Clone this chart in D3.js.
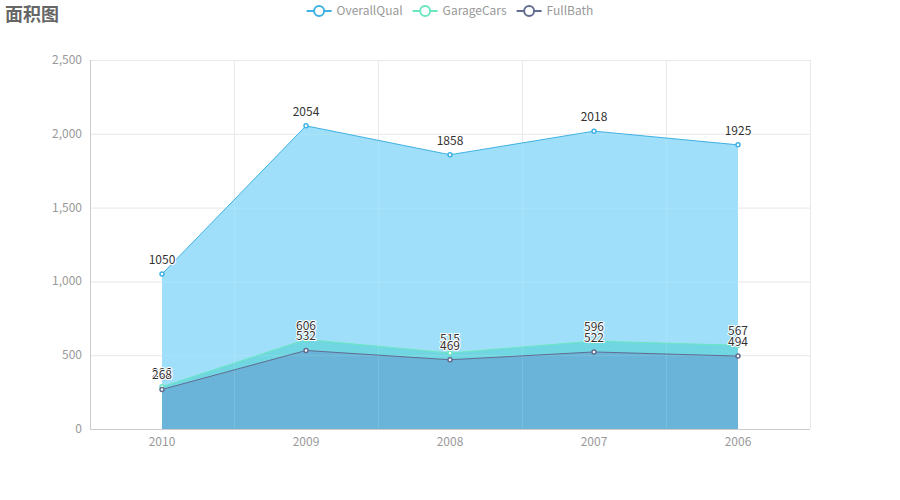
<!DOCTYPE html>
<html><head><meta charset="utf-8">
<script src="https://cdn.jsdelivr.net/npm/d3@7/dist/d3.min.js"></script>
<style>body{margin:0;background:#fff}svg{display:block}</style>
</head><body><svg id="c" width="900" height="500"></svg>
<script>
const categories = ["2010","2009","2008","2007","2006"];
const seriesNames = ["OverallQual","GarageCars","FullBath"];
const overallQual = [1050,2054,1858,2018,1925];
const garageCars = [286,606,515,596,567];
const fullBath = [268,532,469,522,494];
const yTicks = [0,500,1000,1500,2000,2500];
const colors = ["#3fb1e3","#6be6c1","#626c91"];
const areaColors = ["#9fdff9","#70d7e2","#69b4d8"];

const font = "'Noto Sans CJK SC','Noto Sans',sans-serif";
const svg = d3.select("#c");
const L=90,R=810,T=60,B=429;
const x = d3.scaleBand().domain(categories).range([L,R]);
const y = d3.scaleLinear().domain([0,2500]).range([B,T]);
const cx = d => x(d)+x.bandwidth()/2;

const data = [overallQual,garageCars,fullBath];
const area = d3.area().x((d,i)=>cx(categories[i])).y0(y(0)).y1(d=>y(d));
const line = d3.line().x((d,i)=>cx(categories[i])).y(d=>y(d));

// grid (under)
const g = svg.append("g");
const vx = categories.map(c=>x(c)).slice(1).concat([R]);
function grid(op){
  g.append("g").selectAll("line").data(yTicks.slice(1)).join("line")
    .attr("x1",L).attr("x2",R).attr("y1",d=>y(d)+0.5).attr("y2",d=>y(d)+0.5)
    .attr("stroke","#e6e6e6").attr("stroke-opacity",op);
  g.append("g").selectAll("line").data(vx).join("line")
    .attr("x1",d=>d+0.5).attr("x2",d=>d+0.5).attr("y1",T).attr("y2",B)
    .attr("stroke","#e6e6e6").attr("stroke-opacity",op);
}
grid(1);

data.forEach((vals,k)=>{
  svg.append("path").attr("d",area(vals)).attr("fill",areaColors[k]);
});
// faint grid through areas
const g2 = svg.append("g");
g2.selectAll("line.h").data(yTicks.slice(1)).join("line")
  .attr("x1",L).attr("x2",R).attr("y1",d=>y(d)+0.5).attr("y2",d=>y(d)+0.5)
  .attr("stroke","#ffffff").attr("stroke-opacity",0.12);
g2.selectAll("line.v").data(vx).join("line")
  .attr("x1",d=>d+0.5).attr("x2",d=>d+0.5).attr("y1",T).attr("y2",B)
  .attr("stroke","#ffffff").attr("stroke-opacity",0.12);

data.forEach((vals,k)=>{
  svg.append("path").attr("d",line(vals)).attr("fill","none").attr("stroke",colors[k]).attr("stroke-width",1);
});
data.forEach((vals,k)=>{
  svg.selectAll(null).data(vals).join("circle")
    .attr("cx",(d,i)=>cx(categories[i])).attr("cy",d=>y(d)).attr("r",2)
    .attr("fill","#fff").attr("stroke",colors[k]).attr("stroke-width",1.5);
});
data.forEach((vals,k)=>{
  svg.selectAll(null).data(vals).join("text")
    .attr("x",(d,i)=>cx(categories[i])).attr("y",d=>y(d)-10)
    .attr("text-anchor","middle").attr("font-family",font).attr("font-size",12)
    .attr("fill","#333").attr("stroke","#fff").attr("stroke-width",2).attr("paint-order","stroke")
    .text(d=>d);
});

// axes
svg.append("line").attr("x1",L+0.5).attr("x2",L+0.5).attr("y1",T).attr("y2",B).attr("stroke","#cccccc");
svg.append("line").attr("x1",L).attr("x2",R).attr("y1",B+0.5).attr("y2",B+0.5).attr("stroke","#cccccc");
const fmt = d3.format(",");
svg.selectAll(".yl").data(yTicks).join("text")
  .attr("x",L-8).attr("y",d=>y(d)+4).attr("text-anchor","end")
  .attr("font-family",font).attr("font-size",12).attr("fill","#999").text(d=>fmt(d));
svg.selectAll(".xl").data(categories).join("text")
  .attr("x",d=>cx(d)).attr("y",B+17).attr("text-anchor","middle")
  .attr("font-family",font).attr("font-size",12).attr("fill","#999").text(d=>d);

// title
svg.append("text").attr("x",5).attr("y",21).attr("font-family",font).attr("font-size",18)
  .attr("font-weight","bold").attr("fill","#666").text("面积图");

// legend
const lg = svg.append("g");
const items = seriesNames.map((n,k)=>{
  const t = lg.append("text").attr("font-family",font).attr("font-size",12).attr("fill","#999").text(n);
  return {n,k,t,w:t.node().getComputedTextLength()};
});
const total = items.reduce((s,it)=>s+25+5+it.w,0)+10*(items.length-1);
let lx = 450-total/2;
items.forEach(it=>{
  const c = colors[it.k];
  lg.append("line").attr("x1",lx).attr("x2",lx+25).attr("y1",11).attr("y2",11).attr("stroke",c).attr("stroke-width",2);
  lg.append("circle").attr("cx",lx+12.5).attr("cy",11).attr("r",5).attr("fill","#fff").attr("stroke",c).attr("stroke-width",2);
  it.t.attr("x",lx+30).attr("y",15);
  lx += 25+5+it.w+10;
});
</script></body></html>
